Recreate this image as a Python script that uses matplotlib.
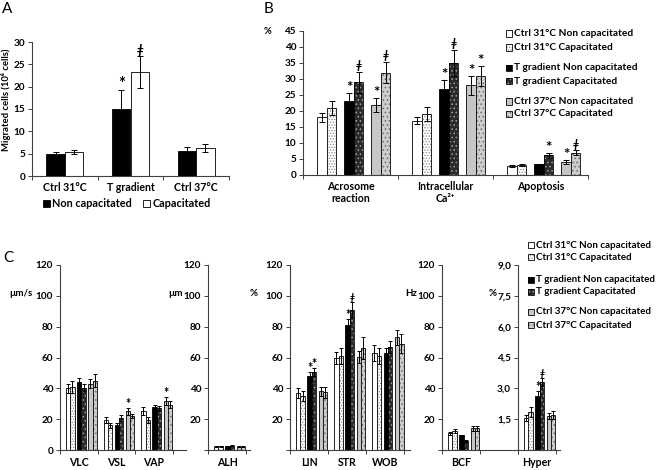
import numpy as np
import matplotlib
matplotlib.use('Agg')
import matplotlib.pyplot as plt
from matplotlib.patches import Rectangle
from matplotlib.ticker import FixedLocator, NullFormatter, FixedFormatter

plt.rcParams['font.family'] = ['Lato', 'DejaVu Sans']
plt.rcParams['font.weight'] = 'bold'
plt.rcParams['hatch.linewidth'] = 0.6

# ---------------- data ----------------
# Panel A
a_categories = ['Ctrl 31°C', 'T gradient', 'Ctrl 37°C']
a_noncap = [5.0, 15.0, 5.7]
a_noncap_err = [0.4, 4.2, 0.8]
a_cap = [5.4, 23.2, 6.2]
a_cap_err = [0.5, 3.6, 0.9]
a_noncap_marks = ['', '*', '']
a_cap_marks = ['', 'ǂ', '']

series_names = ['Ctrl 31°C Non capacitated', 'Ctrl 31°C Capacitated',
                'T gradient Non capacitated', 'T gradient Capacitated',
                'Ctrl 37°C Non capacitated', 'Ctrl 37°C Capacitated']

# Panel B
b_categories = ['Acrosome\nreaction', 'Intracellular\nCa²⁺', 'Apoptosis']
b_ctrl31_nc = [18.0, 17.0, 2.8]
b_ctrl31_c = [21.0, 19.0, 3.1]
b_tg_nc = [23.2, 27.0, 3.3]
b_tg_c = [29.0, 35.0, 6.1]
b_ctrl37_nc = [22.0, 28.0, 4.0]
b_ctrl37_c = [32.0, 31.0, 7.0]
b_ctrl31_nc_err = [1.3, 1.2, 0.2]
b_ctrl31_c_err = [2.2, 2.1, 0.2]
b_tg_nc_err = [2.4, 2.7, 0.2]
b_tg_c_err = [3.3, 4.1, 0.7]
b_ctrl37_nc_err = [2.2, 3.0, 0.7]
b_ctrl37_c_err = [3.4, 3.1, 0.7]
b_tg_nc_marks = ['*', '*', '']
b_tg_c_marks = ['ǂ', 'ǂ', '*']
b_ctrl37_nc_marks = ['*', '*', '*']
b_ctrl37_c_marks = ['ǂ', '*', 'ǂ']

# Panel C
c_categories = ['VLC', 'VSL', 'VAP', 'ALH', 'LIN', 'STR', 'WOB', 'BCF', 'Hyper']
c_ctrl31_nc = [40.0, 19.5, 25.5, 2.2, 37.0, 59.5, 63.0, 11.0, 1.55]
c_ctrl31_c = [41.0, 16.0, 19.5, 2.3, 35.0, 61.0, 61.0, 12.5, 1.85]
c_tg_nc = [44.0, 16.5, 28.0, 2.5, 48.0, 81.0, 63.0, 9.5, 2.65]
c_tg_c = [40.5, 20.5, 27.0, 2.8, 50.5, 91.0, 67.0, 6.0, 3.3]
c_ctrl37_nc = [43.0, 25.0, 32.0, 2.2, 38.0, 60.5, 73.0, 14.0, 1.65]
c_ctrl37_c = [45.0, 22.0, 29.5, 2.2, 37.5, 66.0, 69.0, 14.0, 1.7]
c_ctrl31_nc_err = [3.0, 2.0, 2.5, 0.3, 3.0, 4.0, 5.0, 1.0, 0.15]
c_ctrl31_c_err = [4.0, 1.5, 2.0, 0.3, 3.0, 5.0, 5.0, 1.2, 0.25]
c_tg_nc_err = [2.5, 1.0, 1.5, 0.3, 2.5, 4.0, 3.0, 0.5, 0.2]
c_tg_c_err = [2.0, 2.0, 1.5, 0.4, 2.5, 5.0, 4.0, 0.5, 0.2]
c_ctrl37_nc_err = [3.0, 2.0, 2.5, 0.3, 3.0, 4.0, 5.0, 1.5, 0.15]
c_ctrl37_c_err = [4.0, 1.5, 2.5, 0.3, 3.5, 7.0, 6.0, 1.5, 0.2]
c_tg_nc_marks = ['', '', '', '', '*', '*', '', '', '*']
c_tg_c_marks = ['', '', '', '', '*', 'ǂ', '', '', 'ǂ']
c_ctrl37_nc_marks = ['', '*', '*', '', '', '', '', '', '']

# ---------------- styles ----------------
STYLES = [('white', None, None),
          ('white', '......', '#8a8a8a'),
          ('black', None, None),
          ('#2a2a2a', '....', '#a0a0a0'),
          ('#c6c6c6', None, None),
          ('#cdcdcd', '....', '#6a6a6a')]

W, H = 660, 470
fig = plt.figure(figsize=(6.6, 4.7), dpi=100)


def prect(x0, y0, x1, y1):
    return [x0 / W, 1 - y1 / H, (x1 - x0) / W, (y1 - y0) / H]


def fx(x):
    return x / W


def fy(y):
    return 1 - y / H


AX_COL = '#404040'
TICK_FS = 7.2
CAT_FS = 7.6
MARK_FS = 11


def style_axes(ax, xlim, ylim, yticks, ylabels, xlabels, xlab_pad=3):
    ax.set_xlim(*xlim)
    ax.set_ylim(*ylim)
    ax.patch.set_alpha(0)
    for s in ['top', 'right']:
        ax.spines[s].set_visible(False)
    for s in ['left', 'bottom']:
        ax.spines[s].set_linewidth(0.8)
        ax.spines[s].set_color(AX_COL)
    ax.yaxis.set_major_locator(FixedLocator(yticks))
    ax.yaxis.set_major_formatter(FixedFormatter(ylabels))
    bounds = np.arange(xlim[0], xlim[1] + 1e-9, 1.0)
    ax.xaxis.set_major_locator(FixedLocator(bounds))
    ax.xaxis.set_major_formatter(NullFormatter())
    ax.xaxis.set_minor_locator(FixedLocator(np.arange(len(xlabels))))
    ax.xaxis.set_minor_formatter(FixedFormatter(xlabels))
    ax.tick_params(axis='x', which='major', length=3, width=0.7, direction='out', color=AX_COL)
    ax.tick_params(axis='x', which='minor', length=0, pad=xlab_pad, labelsize=CAT_FS)
    ax.tick_params(axis='y', length=3, width=0.7, direction='out', color=AX_COL,
                   labelsize=TICK_FS, pad=2)


def hbar(ax, x, h, w, style, lw=0.6):
    face, hatch, hcol = style
    if hatch:
        ax.bar(x, h, w, color=face, edgecolor=hcol, hatch=hatch, linewidth=0, zorder=2)
        ax.bar(x, h, w, fill=False, edgecolor='black', linewidth=lw, zorder=3)
    else:
        ax.bar(x, h, w, color=face, edgecolor='black', linewidth=lw, zorder=2)


def put_mark(ax, x, y, m, fs):
    ax.annotate(m, (x, y), xytext=(0, 0.3 if m == 'ǂ' else -1.5),
                textcoords='offset points', ha='center', va='bottom',
                fontsize=fs * (0.8 if m == 'ǂ' else 1.0), zorder=5,
                fontstyle='italic' if m == 'ǂ' else 'normal')


def group_bars(ax, cats_idx, series, errs, marks, bw, spacing, shift, capsize, mark_fs):
    xs = np.arange(len(cats_idx))
    for i, (vals, ee, mm) in enumerate(zip(series, errs, marks)):
        p, j = divmod(i, 2)
        off = shift + (p - 1) * spacing + (j - 0.5) * bw
        v = np.array([vals[k] for k in cats_idx])
        e = np.array([ee[k] for k in cats_idx])
        hbar(ax, xs + off, v, bw, STYLES[i])
        ax.errorbar(xs + off, v, yerr=e, fmt='none', ecolor='black', elinewidth=0.7,
                    capsize=capsize, capthick=0.7, zorder=4)
        if mm is not None:
            for k_i, k in enumerate(cats_idx):
                if mm[k]:
                    put_mark(ax, xs[k_i] + off, v[k_i] + e[k_i], mm[k], mark_fs)


# ---------------- Panel A ----------------
axA = fig.add_axes(prect(32, 42, 229, 176))
style_axes(axA, (-0.5, 2.5), (0, 30), [0, 5, 10, 15, 20, 25, 30],
           ['0', '5', '10', '15', '20', '25', '30'], a_categories, xlab_pad=4)
xa = np.arange(3)
bwA = 0.28
hbar(axA, xa - bwA / 2, a_noncap, bwA, STYLES[2])
hbar(axA, xa + bwA / 2, a_cap, bwA, STYLES[0])
axA.errorbar(xa - bwA / 2, a_noncap, yerr=a_noncap_err, fmt='none', ecolor='black',
             elinewidth=0.7, capsize=2.2, capthick=0.7, zorder=4)
axA.errorbar(xa + bwA / 2, a_cap, yerr=a_cap_err, fmt='none', ecolor='black',
             elinewidth=0.7, capsize=2.2, capthick=0.7, zorder=4)
for k in range(3):
    for off, vals, ee, mm in [(-bwA / 2, a_noncap, a_noncap_err, a_noncap_marks),
                              (bwA / 2, a_cap, a_cap_err, a_cap_marks)]:
        if mm[k]:
            put_mark(axA, k + off, vals[k] + ee[k], mm[k], 12)
fig.text(fx(6), fy(100), 'Migrated cells (10⁶ cells)', rotation=90, ha='center', va='center',
         fontsize=6.8)
# legend A
fig.add_artist(Rectangle((fx(43), fy(207)), 7 / W, 7 / H, transform=fig.transFigure,
                         facecolor='black', edgecolor='black', lw=0.6))
fig.text(fx(52), fy(203.5), 'Non capacitated', ha='left', va='center', fontsize=7.8)
fig.add_artist(Rectangle((fx(143), fy(207)), 7 / W, 7 / H, transform=fig.transFigure,
                         facecolor='white', edgecolor='black', lw=0.6))
fig.text(fx(152.5), fy(203.5), 'Capacitated', ha='left', va='center', fontsize=7.8)

# ---------------- Panel B ----------------
axB = fig.add_axes(prect(303, 31, 588, 175))
style_axes(axB, (-0.5, 2.5), (0, 45), list(range(0, 50, 5)),
           [str(v) for v in range(0, 50, 5)], b_categories, xlab_pad=4)
group_bars(axB, [0, 1, 2],
           [b_ctrl31_nc, b_ctrl31_c, b_tg_nc, b_tg_c, b_ctrl37_nc, b_ctrl37_c],
           [b_ctrl31_nc_err, b_ctrl31_c_err, b_tg_nc_err, b_tg_c_err, b_ctrl37_nc_err,
            b_ctrl37_c_err],
           [None, None, b_tg_nc_marks, b_tg_c_marks, b_ctrl37_nc_marks, b_ctrl37_c_marks],
           bw=0.1, spacing=0.285, shift=0.035, capsize=2.2, mark_fs=MARK_FS)
fig.text(fx(268), fy(31), '%', ha='center', va='center', fontsize=6.8)


def legend_block(x, ys, fs):
    for i, (yy, name) in enumerate(zip(ys, series_names)):
        face, hatch, hcol = STYLES[i]
        r = Rectangle((fx(x), fy(yy + 3)), 6 / W, 6 / H, transform=fig.transFigure,
                      facecolor=face, edgecolor=hcol if hatch else 'black',
                      hatch=hatch, lw=0)
        fig.add_artist(r)
        fig.add_artist(Rectangle((fx(x), fy(yy + 3)), 6 / W, 6 / H,
                                 transform=fig.transFigure, fill=False,
                                 edgecolor='black', lw=0.6))
        fig.text(fx(x + 8), fy(yy), name, ha='left', va='center', fontsize=fs)


legend_block(506, [33.5, 47.5, 68, 81, 101.5, 114], 7.3)

# ---------------- Panel C ----------------
c_series = [c_ctrl31_nc, c_ctrl31_c, c_tg_nc, c_tg_c, c_ctrl37_nc, c_ctrl37_c]
c_errs = [c_ctrl31_nc_err, c_ctrl31_c_err, c_tg_nc_err, c_tg_c_err, c_ctrl37_nc_err,
          c_ctrl37_c_err]
c_marks = [None, None, c_tg_nc_marks, c_tg_c_marks, c_ctrl37_nc_marks, None]

yt120 = [0, 20, 40, 60, 80, 100, 120]
sub_specs = [
    ([0, 1, 2], (60, 265, 186, 450), (-0.5, 2.85), (0, 120), yt120,
     ['0', '20', '40', '60', '80', '100', '120']),
    ([3], (208, 265, 250, 450), (-0.5, 0.6), (0, 120), yt120,
     ['', '20', '40', '60', '80', '100', '120']),
    ([4, 5, 6], (290, 265, 410, 450), (-0.5, 2.65), (0, 120), yt120,
     ['', '20', '40', '60', '80', '100', '120']),
    ([7], (442, 265, 518, 450), (-0.5, 1.5), (0, 120), yt120,
     ['', '20', '40', '60', '80', '100', '120']),
    ([8], (518, 265, 560, 450), (-0.5, 0.6), (0, 9), [0, 1.5, 3, 4.5, 6, 7.5, 9],
     ['', '1,5', '3,0', '4,5', '6,0', '7,5', '9,0']),
]
for idx, pr, xl, yl, yt, ylab in sub_specs:
    ax = fig.add_axes(prect(*pr))
    style_axes(ax, xl, yl, yt, ylab, [c_categories[k] for k in idx], xlab_pad=5)
    group_bars(ax, idx, c_series, c_errs, c_marks, bw=0.114, spacing=0.296, shift=0.07,
               capsize=1.6, mark_fs=9)

fig.text(fx(32), fy(294), 'µm/s', ha='right', va='center', fontsize=7)
fig.text(fx(183), fy(294), 'µm', ha='right', va='center', fontsize=7)
fig.text(fx(258), fy(294), '%', ha='right', va='center', fontsize=7)
fig.text(fx(417), fy(294), 'Hz', ha='right', va='center', fontsize=7)
fig.text(fx(497), fy(294), '%', ha='right', va='center', fontsize=7)

legend_block(528, [245, 257, 280, 292, 312, 325], 7.1)

# panel letters
fig.text(fx(2), fy(9), 'A', ha='left', va='center', fontsize=11, fontweight='normal')
fig.text(fx(264), fy(9), 'B', ha='left', va='center', fontsize=11, fontweight='normal')
fig.text(fx(3), fy(258), 'C', ha='left', va='center', fontsize=11, fontweight='normal')

fig.savefig('out.png', dpi=100, facecolor='white')
